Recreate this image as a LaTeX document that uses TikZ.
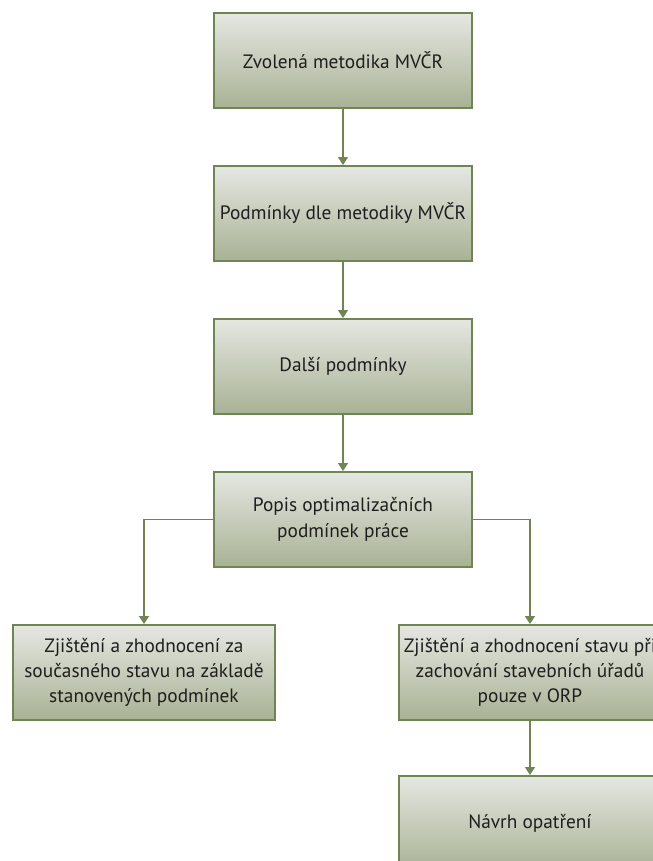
\documentclass[tikz,border=0pt]{standalone}
\usepackage{fontspec}
\setmainfont{PT Sans}
\usetikzlibrary{arrows.meta, positioning}
\definecolor{boxedge}{RGB}{112,132,84}
\definecolor{boxtop}{RGB}{229,231,226}
\definecolor{boxbot}{RGB}{168,178,148}
\definecolor{boxtext}{RGB}{30,30,30}
\newcommand{\boxfont}{\fontsize{14.5}{19}\selectfont\lineskiplimit=-20pt\relax}

\begin{document}
\begin{tikzpicture}[
      x=0.75pt, y=0.75pt,
      node distance=42pt and 0pt,
      box/.style={draw=boxedge, line width=1.5pt, top color=boxtop, bottom color=boxbot,
                  align=center, text=boxtext, font=\boxfont,
                  inner sep=2pt, minimum height=71.25pt, minimum width=193.5pt},
      wide/.style={minimum width=197pt},
      arr/.style={-{Triangle[length=6pt, width=7.5pt]}, draw=boxedge, line width=1.1pt}
    ]
    \useasboundingbox (0,0) rectangle (653,-861);
    \node[box] (metod) at (343,-60.5) {Zvolená metodika MVČR};
    \node[box, below=of metod] (podm) {Podmínky dle metodiky MVČR};
    \node[box, below=of podm] (dalsi) {Další podmínky};
    \node[box, below=of dalsi] (popis) {Popis optimalizačních \\ podmínek práce};
    \draw[arr] (metod) -- (podm);
    \draw[arr] (podm) -- (dalsi);
    \draw[arr] (dalsi) -- (popis);

    \node[box, wide, below=of popis, xshift=-149.25pt] (soucas) {Zjištění a zhodnocení za \\ současného stavu na základě \\ stanovených podmínek};
    \node[box, wide, below=of popis, xshift=140.25pt] (orp) {Zjištění a zhodnocení stavu při \\ zachování stavebních úřadů \\ pouze v ORP};
    \node[box, wide, below=40.5pt of orp] (navrh) {Návrh opatření};
    \draw[arr] (popis.west) -| (soucas.north);
    \draw[arr] (popis.east) -| (orp.north);
    \draw[arr] (orp) -- (navrh);
  \end{tikzpicture}
\end{document}
